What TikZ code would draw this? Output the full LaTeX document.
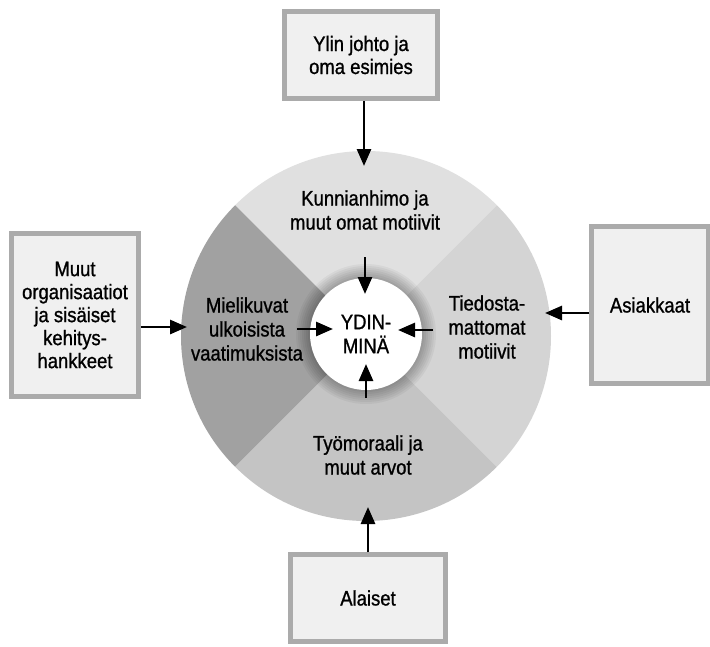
\documentclass[tikz,border=0pt]{standalone}
\usepackage{fontspec}
\setmainfont{Liberation Sans}[FakeStretch=0.88,FakeBold=1]
\usetikzlibrary{arrows.meta}
\begin{document}
\begin{tikzpicture}[x=1pt,y=-1pt,
  box/.style={draw=black!33,line width=4.5pt,fill=black!6,inner sep=0pt,align=center,
    font=\fontsize{21}{23}\selectfont},
  lbl/.style={align=center,font=\fontsize{21}{24}\selectfont,inner sep=0pt},
  arr/.style={line width=2.8pt,-{Triangle[length=17pt,width=14pt]}}]
\useasboundingbox (0,0) rectangle (710,646);
\fill[white] (0,0) rectangle (710,646);
% sectors
\def\R{185}
\fill[black!12] (366,336) -- ++(-45:\R) arc[start angle=-45,end angle=-135,radius=\R] -- cycle;
\fill[black!17] (366,336) -- ++(45:\R) arc[start angle=45,end angle=-45,radius=\R] -- cycle;
\fill[black!37] (366,336) -- ++(-135:\R) arc[start angle=-135,end angle=-225,radius=\R] -- cycle;
\fill[black!23] (366,336) -- ++(135:\R) arc[start angle=135,end angle=45,radius=\R] -- cycle;
\node[circle,minimum size=370pt,inner sep=0pt] (ring) at (366,336) {};
\foreach \k in {1,...,7} {\fill[black,opacity=0.045] (366,334) circle[radius=56+2*\k];}
\node[circle,fill=white,minimum size=112pt,inner sep=0pt,lbl] (core) at (366,334) {YDIN-\\MINÄ};
% sector labels
\node[lbl] (ambition) at (365,210) {Kunnianhimo ja\\muut omat motiivit};
\node[lbl] (images) at (247,329) {Mielikuvat\\ulkoisista\\vaatimuksista};
\node[lbl] (uncons) at (487,327) {Tiedosta-\\mattomat\\motiivit};
\node[lbl] (ethic) at (368,455) {Työmoraali ja\\muut arvot};
% boxes
\node[box,minimum width=153pt,minimum height=87pt] (top) at (361,55) {Ylin johto ja\\oma esimies};
\node[box,minimum width=127pt,minimum height=163pt] (left) at (75,315) {Muut\\organisaatiot\\ja sisäiset\\kehitys-\\hankkeet};
\node[box,minimum width=117pt,minimum height=157pt] (right) at (650,305) {Asiakkaat};
\node[box,minimum width=155pt,minimum height=87pt] (bottom) at (368,598) {Alaiset};
% outer arrows
\coordinate (tT) at (364,166);
\coordinate (tL) at (187,327);
\coordinate (tR) at (545,313);
\coordinate (tB) at (368,507);
\draw[arr] (top.south -| tT) -- (tT);
\draw[arr] (left.east |- tL) -- (tL);
\draw[arr] (right.west |- tR) -- (tR);
\draw[arr] (bottom.north -| tB) -- (tB);
% inner arrows
\coordinate (iT1) at (365,257); \coordinate (iT2) at (365,294);
\coordinate (iL1) at (297,329); \coordinate (iL2) at (333,329);
\coordinate (iR1) at (433,330); \coordinate (iR2) at (398,330);
\coordinate (iB1) at (366,398); \coordinate (iB2) at (366,364);
\draw[arr] (iT1) -- (iT2);
\draw[arr] (iL1) -- (iL2);
\draw[arr] (iR1) -- (iR2);
\draw[arr] (iB1) -- (iB2);
\end{tikzpicture}
\end{document}
